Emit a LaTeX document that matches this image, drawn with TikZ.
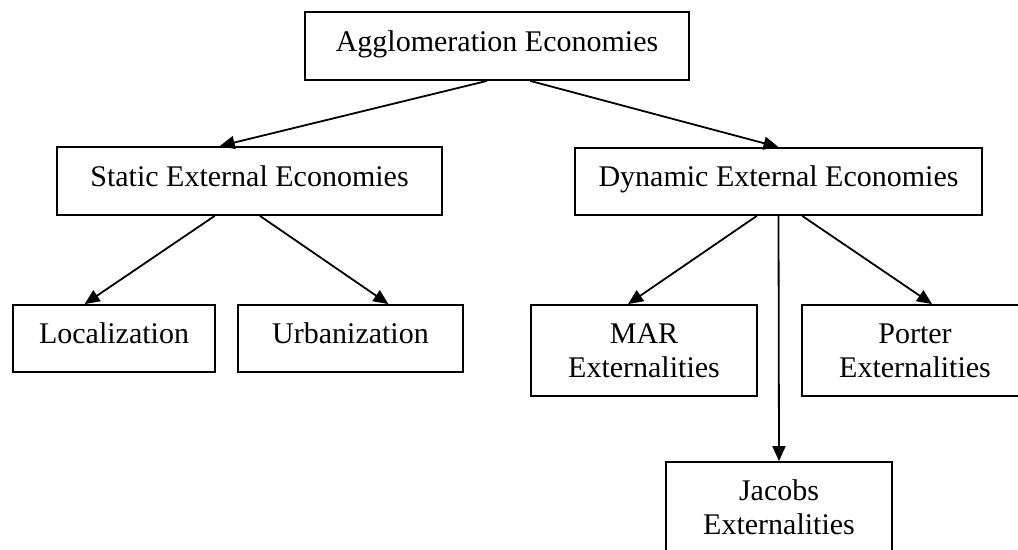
\documentclass[tikz,border=0pt]{standalone}
\usepackage{fontspec}
\setmainfont{Liberation Serif}
\usetikzlibrary{positioning, arrows.meta, calc}

\tikzset{
  econbox/.style={draw, line width=0.9pt, inner sep=0pt, align=center,
    font=\fontsize{15}{17}\selectfont, minimum width=#1},
  econbox/.default=113pt,
  oneline/.style={text height=10pt, text depth=4.8pt},
  link/.style={line width=0.9pt, -{Triangle[length=7.5pt,width=6.5pt]}}
}

\begin{document}
\begin{tikzpicture}[x=0.5pt, y=-0.5pt]
    \clip (0,0) rectangle (1018,550);
    \fill[white] (0,0) rectangle (1018,550);

    \node[econbox=192pt, oneline, minimum height=34pt] (agglo)   at (497, 46)    {Agglomeration Economies};
    \node[econbox=192.5pt, oneline, minimum height=34pt] (static)  at (249.5, 181) {Static External Economies};
    \node[econbox=203.5pt, oneline, minimum height=33.5pt] (dynamic) at (778.5, 181.5) {Dynamic External Economies};

    \node[econbox=101pt, oneline, minimum height=33.5pt] (local) at (114, 338.5)   {Localization};
    \node[econbox=112.5pt, oneline, minimum height=33.5pt] (urban) at (350.5, 338.5) {Urbanization};

    \node[econbox, minimum height=45.5pt] (mar)    at (644, 350.5) {MAR\\Externalities};
    \node[econbox, minimum height=45.5pt] (porter) at (915, 350.5) {Porter\\Externalities};
    \node[econbox, minimum height=45.5pt] (jacobs) at (779, 507.5) {Jacobs\\Externalities};

    \draw[link] ($(agglo.south west)!0.474!(agglo.south east)$) -- ($(static.north west)!0.423!(static.north east)$);
    \draw[link] ($(agglo.south west)!0.586!(agglo.south east)$) -- (dynamic.north);

    \draw[link] ($(static.south west)!0.41!(static.south east)$) -- ($(local.north west)!0.356!(local.north east)$);
    \draw[link] ($(static.south west)!0.527!(static.south east)$) -- ($(urban.north west)!0.667!(urban.north east)$);

    \draw[link] ($(dynamic.south west)!0.447!(dynamic.south east)$) -- ($(mar.north west)!0.43!(mar.north east)$);
    \draw[link] (dynamic.south) -- (jacobs.north);
    \draw[link] ($(dynamic.south west)!0.558!(dynamic.south east)$) -- ($(porter.north west)!0.575!(porter.north east)$);
\end{tikzpicture}
\end{document}
